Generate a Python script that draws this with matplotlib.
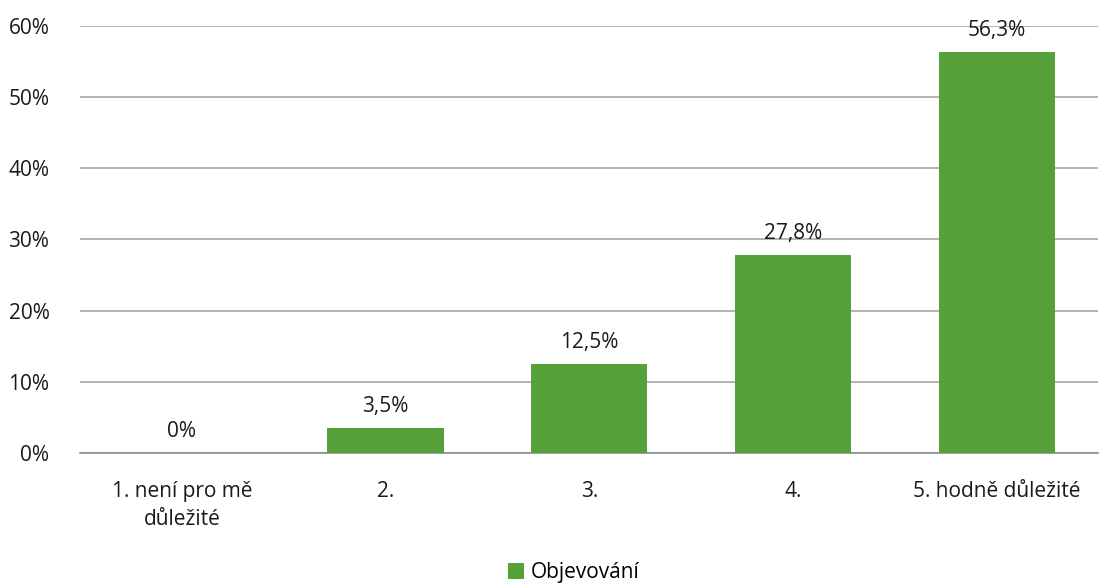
import matplotlib.pyplot as plt
from matplotlib.ticker import FuncFormatter

categories = ['1. není pro mě\ndůležité', '2.', '3.', '4.', '5. hodně důležité']
values = [0.0, 3.5, 12.5, 27.8, 56.3]
value_labels = ['0%', '3,5%', '12,5%', '27,8%', '56,3%']
series_name = 'Objevování'

plt.rcParams['font.family'] = ['Open Sans', 'DejaVu Sans']

fig = plt.figure(figsize=(11.03, 5.88), dpi=100)
ax = fig.add_axes([0.0725, 0.2296, 0.9234, 0.7262])

x = range(len(categories))
bars = ax.bar(x, values, width=0.57, color='#56A03A', label=series_name, zorder=3)

for xi, v, lab in zip(x, values, value_labels):
    ax.text(xi, v + 1.6, lab, ha='center', va='bottom', fontsize=15, color='#1a1a1a')

ax.set_xlim(-0.5, 4.5)
ax.set_ylim(0, 60)
ax.set_yticks(range(0, 61, 10))
ax.yaxis.set_major_formatter(FuncFormatter(lambda v, p: f'{int(v)}%'))
ax.set_xticks(list(x))
ax.set_xticklabels(categories, fontsize=15, color='#1a1a1a', linespacing=1.45)
ax.tick_params(axis='y', labelsize=15, labelcolor='#1a1a1a', length=0, pad=22)
ax.tick_params(axis='x', length=0, pad=20)

ax.grid(axis='y', color='#a6a6a6', linewidth=1.2, zorder=0)
for s in ['top', 'right', 'left']:
    ax.spines[s].set_visible(False)
ax.spines['bottom'].set_color('#8c8c8c')
ax.spines['bottom'].set_linewidth(1.2)

fig.legend(handles=[bars], labels=[series_name], loc='lower center',
           bbox_to_anchor=(0.52, -0.024), frameon=False, fontsize=15,
           handlelength=0.8, handleheight=0.8, handletextpad=0.3)

fig.savefig('out.png', dpi=100)
